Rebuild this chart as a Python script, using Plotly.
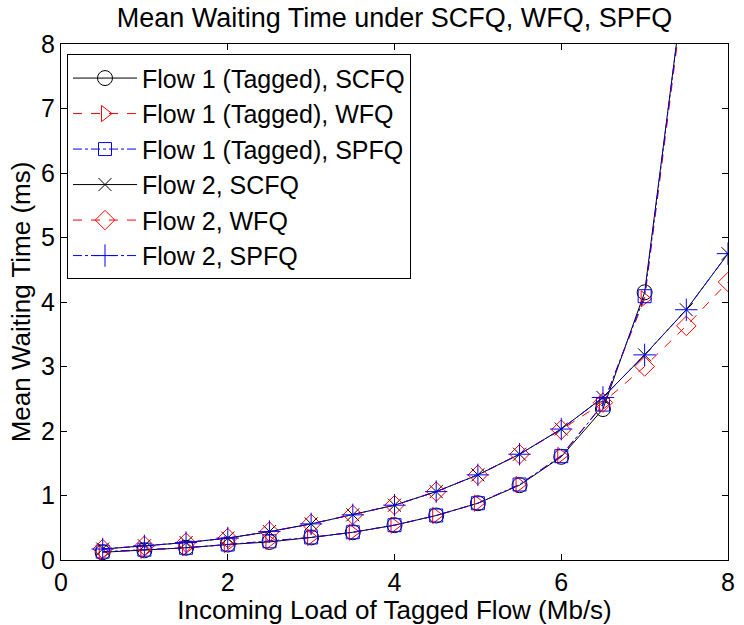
import plotly.graph_objects as go

x_flow1 = [0.5, 1, 1.5, 2, 2.5, 3, 3.5, 4, 4.5, 5, 5.5, 6, 6.5, 7, 7.5]
x_flow2 = [0.5, 1, 1.5, 2, 2.5, 3, 3.5, 4, 4.5, 5, 5.5, 6, 6.5, 7, 7.5, 8]

f1_scfq = [0.12, 0.15, 0.19, 0.24, 0.28, 0.35, 0.43, 0.54, 0.69, 0.88, 1.16, 1.60, 2.34, 4.15, 9.2]
f1_wfq  = [0.12, 0.15, 0.19, 0.24, 0.29, 0.35, 0.43, 0.54, 0.69, 0.88, 1.17, 1.62, 2.42, 4.05, 9.1]
f1_spfq = [0.13, 0.16, 0.19, 0.24, 0.29, 0.35, 0.43, 0.54, 0.69, 0.88, 1.17, 1.61, 2.41, 4.09, 9.2]

f2_scfq = [0.17, 0.22, 0.27, 0.34, 0.44, 0.56, 0.70, 0.85, 1.06, 1.32, 1.64, 2.03, 2.52, 3.18, 3.88, 4.75]
f2_wfq  = [0.17, 0.22, 0.27, 0.34, 0.44, 0.56, 0.70, 0.85, 1.06, 1.32, 1.64, 2.02, 2.44, 3.00, 3.63, 4.31]
f2_spfq = [0.17, 0.22, 0.27, 0.34, 0.44, 0.56, 0.70, 0.85, 1.06, 1.32, 1.64, 2.03, 2.52, 3.18, 3.88, 4.75]

names = ["Flow 1 (Tagged), SCFQ", "Flow 1 (Tagged), WFQ", "Flow 1 (Tagged), SPFQ",
         "Flow 2, SCFQ", "Flow 2, WFQ", "Flow 2, SPFQ"]
xticks = [0, 2, 4, 6, 8]
yticks = [0, 1, 2, 3, 4, 5, 6, 7, 8]

series = [
    (x_flow1, f1_scfq, "black", "solid", "circle-open", 15),
    (x_flow1, f1_wfq, "red", "dash", "triangle-right-open", 14),
    (x_flow1, f1_spfq, "blue", "dashdot", "square-open", 13),
    (x_flow2, f2_scfq, "black", "solid", "x-thin-open", 13),
    (x_flow2, f2_wfq, "red", "dash", "diamond-open", 15),
    (x_flow2, f2_spfq, "blue", "dashdot", "cross-thin-open", 16),
]

fig = go.Figure()
for (xs, ys, col, dash, sym, sz), nm in zip(series, names):
    fig.add_trace(go.Scatter(
        x=xs, y=ys, name=nm, mode="lines+markers",
        line=dict(color=col, dash=dash, width=1),
        marker=dict(symbol=sym, size=sz, color=col, line=dict(color=col, width=1)),
    ))

font = "Liberation Sans, Arial, sans-serif"
fig.update_layout(
    width=744, height=625,
    margin=dict(l=61, r=9, t=44, b=65),
    paper_bgcolor="white", plot_bgcolor="white",
    font=dict(family=font, color="black", size=25),
    title=dict(text="Mean Waiting Time under SCFQ, WFQ, SPFQ", x=0.5, xref="paper",
               xanchor="center", y=1 - 18 / 625, yanchor="middle", font=dict(size=27)),
    legend=dict(x=0.009, y=0.98, xanchor="left", yanchor="top",
                bgcolor="white", bordercolor="black", borderwidth=1,
                font=dict(size=25), tracegroupgap=0, itemwidth=64),
    showlegend=True,
)
fig.update_xaxes(range=[0, 8], tickvals=xticks, ticks="inside", ticklen=6, tickcolor="black",
                 showline=True, linecolor="black", linewidth=1, mirror="ticks",
                 showgrid=False, zeroline=False,
                 title=dict(text="Incoming Load of Tagged Flow (Mb/s)", standoff=0,
                            font=dict(size=26)),
                 tickfont=dict(size=25))
fig.update_yaxes(range=[0, 8], tickvals=yticks, ticks="inside", ticklen=6, tickcolor="black",
                 showline=True, linecolor="black", linewidth=1, mirror="ticks",
                 showgrid=False, zeroline=False,
                 title=dict(text="Mean Waiting Time (ms)", standoff=2, font=dict(size=26)),
                 tickfont=dict(size=25))

fig.write_html("out.html")
